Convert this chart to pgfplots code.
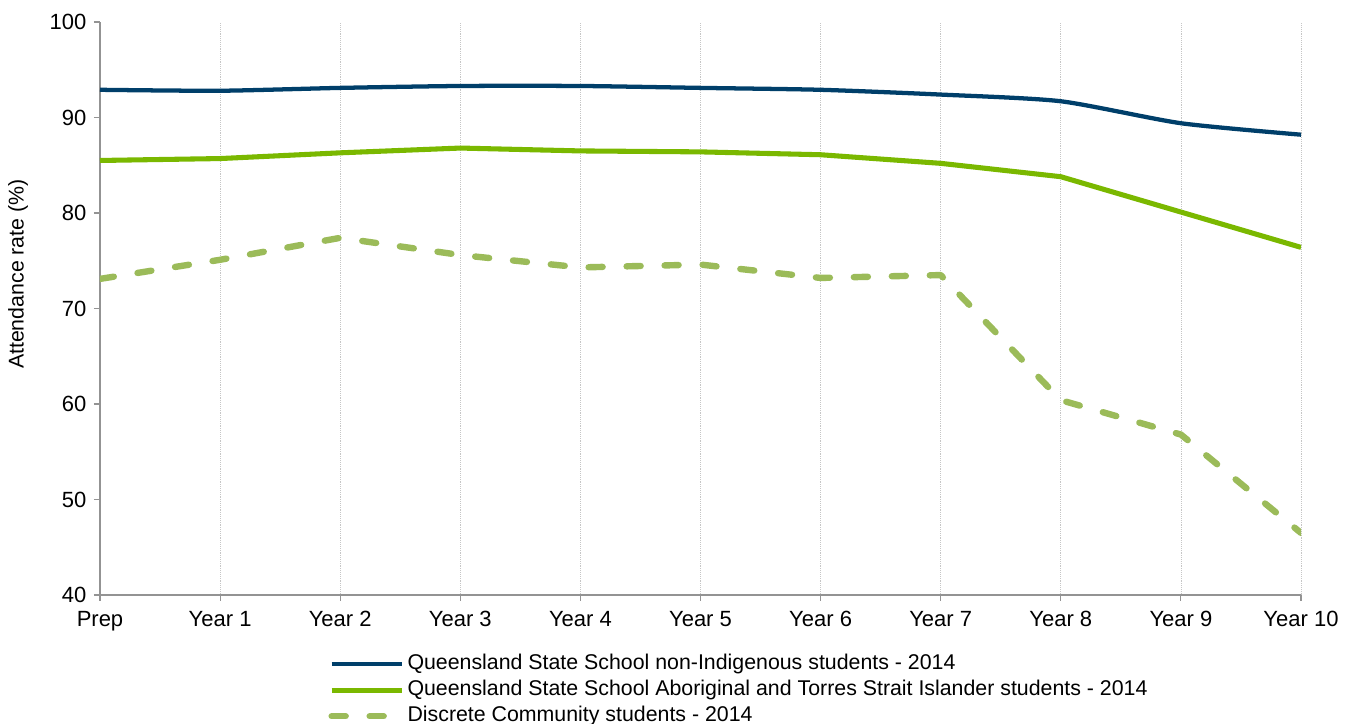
\documentclass[border=0pt]{standalone}
\usepackage{fontspec}
\setmainfont{Liberation Sans}
\usepackage{pgfplots}
\pgfplotsset{compat=1.18}
\definecolor{navy}{RGB}{0,63,106}
\definecolor{lgreen}{RGB}{122,184,0}
\definecolor{olive}{RGB}{155,187,89}
\begin{document}
\fontsize{16.5pt}{19pt}\selectfont
\begin{tikzpicture}
\begin{axis}[
 at={(0,0)}, anchor=south west,
 scale only axis, width=900.75pt, height=429.75pt,
 xmin=0, xmax=10, ymin=40, ymax=100,
 xtick={0,...,10},
 xticklabels={Prep,Year 1,Year 2,Year 3,Year 4,Year 5,Year 6,Year 7,Year 8,Year 9,Year 10},
 ytick={40,50,...,100},
 axis x line*=bottom, axis y line*=left,
 axis line style={draw=gray!85, line width=0.8pt},
 tick style={draw=gray!85, line width=0.8pt},
 tick align=outside, major tick length=4.5pt,
 xmajorgrids, grid style={densely dotted, gray!45, line width=0.5pt},
 ticklabel style={font=\fontsize{16.5pt}{19pt}\selectfont},
 xticklabel style={yshift=-2pt},
 /pgf/number format/assume math mode=true,
 ylabel={Attendance rate (\%)},
 every axis y label/.style={at={(axis description cs:0,0.56)}, xshift=-61.5pt, rotate=90, anchor=center, font=\fontsize{16pt}{19pt}\selectfont},
 legend style={at={(axis description cs:0.19,-0.0977)}, anchor=north west, draw=none, fill=none, inner sep=0pt, row sep=0pt,
   font=\fontsize{16pt}{19pt}\selectfont,
   nodes={inner sep=1.5pt, text height=12pt, text depth=4.5pt}},
 legend cell align=left,
 legend image code/.code={\draw[#1] (0pt,0pt) -- (53pt,0pt);},
]
\addplot[navy, line width=3.2pt, smooth, tension=0.4] coordinates {
 (0,92.9) (1,92.8) (2,93.1) (3,93.3) (4,93.3) (5,93.1) (6,92.9) (7,92.4) (8,91.7) (9,89.4) (10,88.2)};
\addlegendentry{Queensland State School non-Indigenous students - 2014}
\addplot[lgreen, line width=3.8pt] coordinates {
 (0,85.5) (1,85.7) (2,86.3) (3,86.8) (4,86.5) (5,86.4) (6,86.1) (7,85.2) (8,83.8) (9,80.1) (10,76.4)};
\addlegendentry{Queensland State School Aboriginal and Torres Strait Islander students - 2014}
\addplot[olive, line width=4.8pt, line cap=round, line join=round, dash pattern=on 10.5pt off 18pt] coordinates {
 (0,73.1) (1,75.1) (2,77.4) (3,75.6) (4,74.3) (5,74.6) (6,73.2) (7,73.5) (8,60.4) (9,56.8) (10,46.5)};
\addlegendentry{Discrete Community students - 2014}
\end{axis}
\pgfresetboundingbox
\path[use as bounding box] (-75pt,-96.75pt) rectangle (939.75pt,446.25pt);
\end{tikzpicture}
\end{document}
